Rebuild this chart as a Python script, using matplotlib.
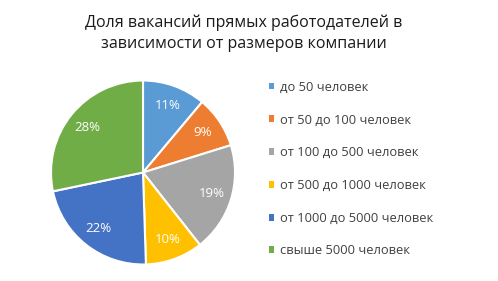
import matplotlib
matplotlib.use('Agg')
import matplotlib.pyplot as plt

plt.rcParams['font.family'] = ['Open Sans', 'DejaVu Sans']

title = u"Доля вакансий прямых работодателей в\nзависимости от размеров компании"
categories = [u"до 50 человек", u"от 50 до 100 человек", u"от 100 до 500 человек",
              u"от 500 до 1000 человек", u"от 1000 до 5000 человек", u"свыше 5000 человек"]
shares = [11, 9, 19, 10, 22, 28]
colors = ['#5B9BD5', '#ED7D31', '#A5A5A5', '#FFC000', '#4472C4', '#70AD47']

fig = plt.figure(figsize=(4.98, 2.81), dpi=100)
ax = fig.add_axes([51 / 498, 16.5 / 281, 184 / 498, 184 / 281])

wedges, texts, autotexts = ax.pie(
    shares, colors=colors, startangle=90, counterclock=False,
    autopct=lambda p: '%d%%' % round(p * sum(shares) / 100.0),
    pctdistance=0.78, radius=1,
    wedgeprops=dict(edgecolor='white', linewidth=1.5))
for t in autotexts:
    t.set_color('white')
    t.set_fontsize(9.5)
ax.set_xlim(-1, 1)
ax.set_ylim(-1, 1)
ax.set_aspect('equal')

fig.text(244 / 498, 1 - 33 / 281, title, ha='center', va='center',
         fontsize=11.5, color='#1a1a1a', linespacing=1.45)

leg = fig.legend(wedges, categories, loc='upper left',
                 bbox_to_anchor=(257 / 498, 1 - 69 / 281), frameon=False,
                 fontsize=9.3, labelspacing=1.53, handlelength=0.45,
                 handleheight=0.45, handletextpad=0.45, labelcolor='#404040')
for h in leg.legend_handles:
    h.set_edgecolor('none')

fig.savefig('out.png', dpi=100)
